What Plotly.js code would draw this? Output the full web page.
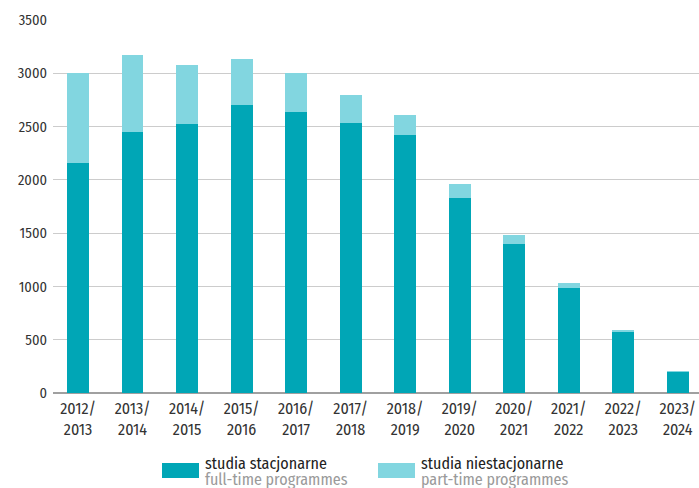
<!DOCTYPE html>
<html>
<head>
<meta charset="utf-8">
<script src="https://cdn.plot.ly/plotly-3.0.1.min.js"></script>
<style>html,body{margin:0;padding:0;background:#fff;}#chart{width:699px;height:488px;}</style>
</head>
<body>
<div id="chart"></div>
<script>
const years = ["2012/2013","2013/2014","2014/2015","2015/2016","2016/2017","2017/2018","2018/2019","2019/2020","2020/2021","2021/2022","2022/2023","2023/2024"];
const tickLabels = ["2012/<br>2013","2013/<br>2014","2014/<br>2015","2015/<br>2016","2016/<br>2017","2017/<br>2018","2018/<br>2019","2019/<br>2020","2020/<br>2021","2021/<br>2022","2022/<br>2023","2023/<br>2024"];
const fullTime = [2160, 2450, 2525, 2700, 2635, 2535, 2420, 1832, 1400, 983, 568, 194];
const partTime = [840, 725, 557, 430, 365, 261, 188, 127, 82, 53, 19, 15];
const seriesNames = ["studia stacjonarne", "studia niestacjonarne"];
const seriesSub = ["full-time programmes", "part-time programmes"];
const colors = ["#00A6B6", "#82D6E0"];
const FONT = "'Fira Sans Condensed','Liberation Sans Narrow','DejaVu Sans Condensed',sans-serif";

const traces = [
  {type:"bar", x: years, y: fullTime, name: seriesNames[0], marker:{color:colors[0]}, width:0.4},
  {type:"bar", x: years, y: partTime, name: seriesNames[1], marker:{color:colors[1]}, width:0.4}
];

const PL = 53, PW = 646, PB = 393, PH = 373;
const px = v => (v - PL) / PW;
const py = v => (PB - v) / PH;
const legendX = [162, 378];
const shapes = [];
const annotations = [];
for (let i = 0; i < 2; i++) {
  shapes.push({type:"rect", xref:"paper", yref:"paper", layer:"above",
    x0:px(legendX[i]), x1:px(legendX[i]+37),
    y0:py(478), y1:py(463),
    fillcolor:colors[i], line:{width:0}});
  annotations.push({xref:"paper", yref:"paper", x:px(legendX[i]+42), y:py(463.5),
    xanchor:"left", yanchor:"middle", showarrow:false, align:"left", borderpad:0,
    text: seriesNames[i], font:{family:FONT, size:16, color:"#222"}});
  annotations.push({xref:"paper", yref:"paper", x:px(legendX[i]+42), y:py(479.5),
    xanchor:"left", yanchor:"middle", showarrow:false, align:"left", borderpad:0,
    text: seriesSub[i], font:{family:FONT, size:16, color:"#9a9a9a"}});
}

const layout = {
  width:699, height:488,
  margin:{l:PL, r:0, t:20, b:95},
  barmode:"stack",
  showlegend:false,
  paper_bgcolor:"#fff", plot_bgcolor:"#fff",
  font:{family:FONT, size:14, color:"#333"},
  xaxis:{type:"category", range:[-0.46, 11.39], tickmode:"array", tickvals:years, ticktext:tickLabels,
    showgrid:false, showline:false, ticks:"", ticklabelstandoff:4, tickfont:{family:FONT, size:16, color:"#333"}},
  yaxis:{range:[0,3500], tickvals:[0,500,1000,1500,2000,2500,3000,3500], showgrid:true,
    gridcolor:"#cccccc", gridwidth:1, zeroline:true, zerolinecolor:"#a0a0a0", zerolinewidth:1.5,
    ticks:"", ticklabelstandoff:5, tickfont:{family:FONT, size:14.5, color:"#333"}},
  shapes: shapes,
  annotations: annotations
};

Plotly.newPlot("chart", traces, layout, {staticPlot:true, displayModeBar:false});
</script>
</body>
</html>
